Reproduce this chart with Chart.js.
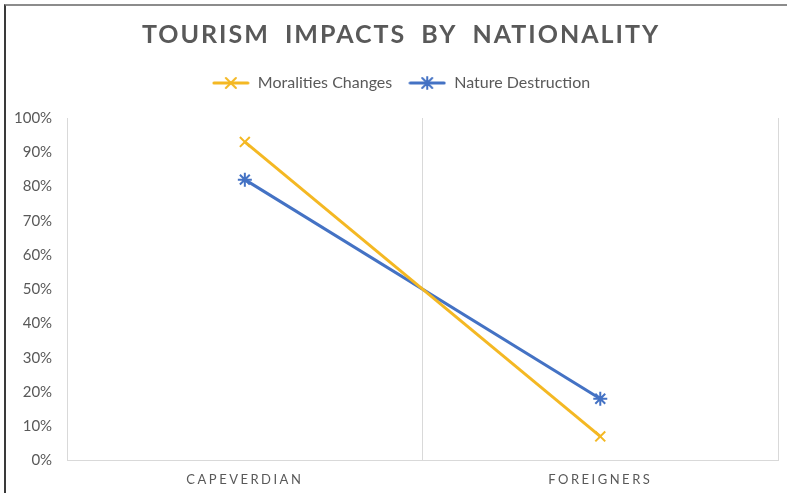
<!DOCTYPE html>
<html>
<head>
<meta charset="utf-8">
<script src="https://cdn.jsdelivr.net/npm/chart.js@4.4.0/dist/chart.umd.min.js"></script>
<style>
  html, body { margin: 0; padding: 0; background: #fff; }
  #wrap { position: relative; width: 787px; height: 493px; }
  #frame {
    position: absolute; left: 4px; top: 4px; right: 0; bottom: 0;
    border-top: 2px solid #8c8c8c; border-left: 2px solid #3a3a3a;
    pointer-events: none;
  }
  canvas { display: block; }
</style>
</head>
<body>
<div id="wrap">
  <canvas id="impactChart" width="787" height="493"></canvas>
  <div id="frame"></div>
</div>
<script>
// chart data
const categories = ['CAPEVERDIAN', 'FOREIGNERS'];
const moralitiesChanges = [93, 7];
const natureDestruction = [82, 18];
const yTicks = [0, 10, 20, 30, 40, 50, 60, 70, 80, 90, 100];

const YELLOW = '#F4B823';
const BLUE = '#4472C4';
const TEXT = '#595959';

// little legend swatch: line with the marker in the middle
function legendSwatch(color, style) {
    const c = document.createElement('canvas');
    c.width = 38;
    c.height = 14;
    const g = c.getContext('2d');
    g.strokeStyle = color;
    g.lineWidth = 3;
    g.lineCap = 'round';
    g.beginPath();
    g.moveTo(2, 7);
    g.lineTo(36, 7);
    g.stroke();
    g.lineWidth = 2;
    g.beginPath();
    g.moveTo(14, 2); g.lineTo(24, 12);
    g.moveTo(24, 2); g.lineTo(14, 12);
    if (style === 'star') {
        g.moveTo(19, 1); g.lineTo(19, 13);
    }
    g.stroke();
    return c;
}

const swatches = [legendSwatch(YELLOW, 'crossRot'), legendSwatch(BLUE, 'star')];

// extra room under the legend, like the Excel layout
const legendGap = {
    id: 'legendGap',
    afterInit(chart) {
        const fit = chart.legend.fit;
        chart.legend.fit = function () {
            fit.call(this);
            this.height += 17;
        };
    }
};

const ctx = document.getElementById('impactChart').getContext('2d');

const chart = new Chart(ctx, {
    type: 'line',
    data: {
        labels: categories,
        datasets: [{
            label: 'Moralities Changes',
            data: moralitiesChanges,
            borderColor: YELLOW,
            backgroundColor: YELLOW,
            borderWidth: 3,
            pointStyle: 'crossRot',
            pointRadius: 7,
            pointBorderWidth: 2,
            pointBorderColor: YELLOW,
            tension: 0
        }, {
            label: 'Nature Destruction',
            data: natureDestruction,
            borderColor: BLUE,
            backgroundColor: BLUE,
            borderWidth: 3,
            pointStyle: 'star',
            pointRadius: 7,
            pointBorderWidth: 2,
            pointBorderColor: BLUE,
            tension: 0
        }]
    },
    options: {
        responsive: false,
        animation: false,
        layout: {
            padding: { left: 7, right: 8, top: 20, bottom: -7 }
        },
        plugins: {
            title: {
                display: true,
                text: 'TOURISM IMPACTS BY NATIONALITY',
                color: TEXT,
                font: { family: 'Lato', size: 25, weight: 'bold' },
                padding: { top: 0, bottom: 9 }
            },
            legend: {
                display: true,
                labels: {
                    color: TEXT,
                    font: { family: 'Lato', size: 16 },
                    usePointStyle: true,
                    pointStyleWidth: 38,
                    boxHeight: 14,
                    padding: 16,
                    generateLabels(ch) {
                        return ch.data.datasets.map((ds, i) => ({
                            text: ds.label,
                            fillStyle: ds.borderColor,
                            strokeStyle: ds.borderColor,
                            fontColor: TEXT,
                            lineWidth: 0,
                            pointStyle: swatches[i],
                            hidden: false,
                            datasetIndex: i
                        }));
                    }
                }
            },
            tooltip: { enabled: false }
        },
        scales: {
            x: {
                offset: true,
                grid: {
                    offset: true,
                    color: '#d9d9d9',
                    lineWidth: 1,
                    drawTicks: false
                },
                border: { display: true, color: '#d9d9d9' },
                ticks: {
                    color: TEXT,
                    font: { family: 'Lato', size: 13 },
                    padding: 12
                }
            },
            y: {
                min: 0,
                max: 100,
                afterBuildTicks(scale) {
                    scale.ticks = yTicks.map(v => ({ value: v }));
                },
                grid: { display: false },
                border: { display: false },
                ticks: {
                    color: TEXT,
                    font: { family: 'Lato', size: 15 },
                    padding: 7,
                    callback: v => v + '%'
                }
            }
        }
    },
    plugins: [legendGap]
});

// Excel-style letter spacing (and a small nudge) on some text blocks
function tweak(obj, method, letters, words, dx) {
    const orig = obj[method];
    obj[method] = function (...args) {
        const c = this.ctx;
        c.save();
        c.translate(dx, 0);
        c.letterSpacing = letters;
        c.wordSpacing = words;
        orig.apply(this, args);
        c.restore();
    };
}
tweak(chart.titleBlock, 'draw', '2px', '7px', 8);
tweak(chart.legend, 'draw', '0px', '0px', 8);
tweak(chart.scales.x, 'drawLabels', '2.5px', '0px', 0);
chart.draw();
</script>
</body>
</html>
